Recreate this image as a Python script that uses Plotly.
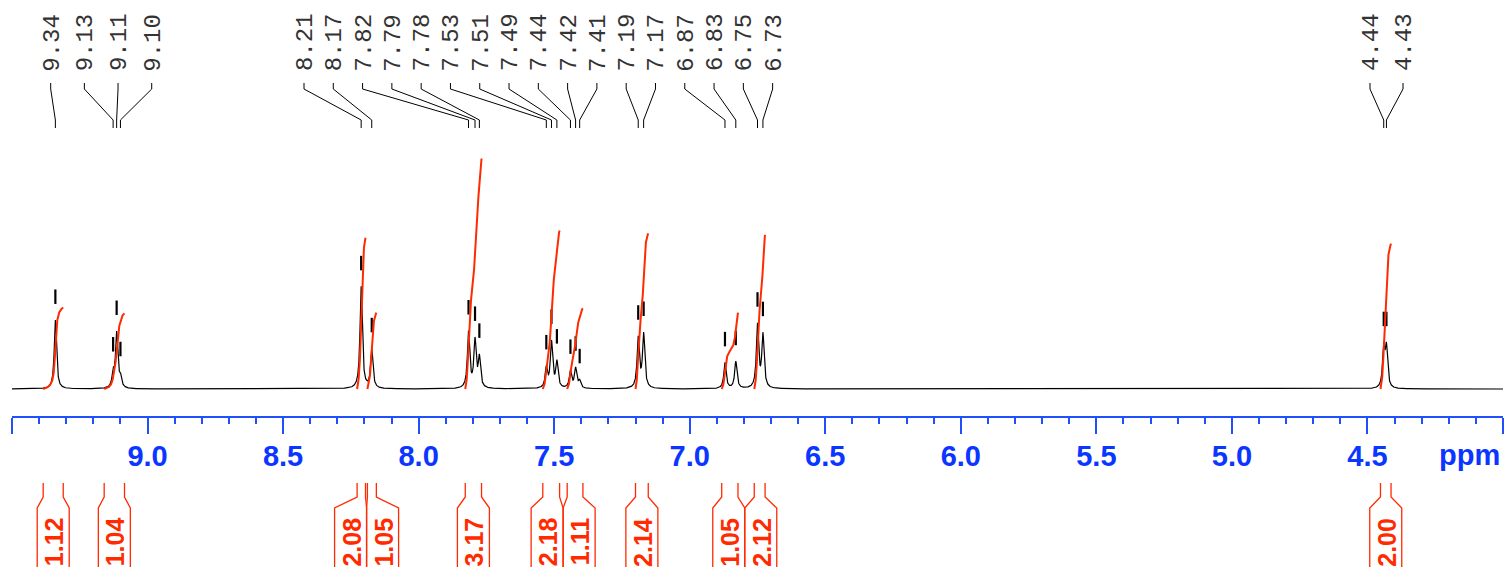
import numpy as np
import plotly.graph_objects as go

# ---------------- data ----------------
peak_ppm = [9.340, 9.127, 9.114, 9.100, 8.212, 8.173, 7.816, 7.792, 7.776,
            7.529, 7.510, 7.490, 7.440, 7.421, 7.406, 7.190, 7.170,
            6.870, 6.830, 6.750, 6.730, 4.440, 4.430]
peak_height = [69, 14, 55, 10, 102, 39, 56, 47, 30,
               20, 46, 26, 17, 20, 7, 50, 54,
               26, 27, 63, 53, 39, 39]
peak_labels = [f"{p:.2f}" for p in peak_ppm]

integral_start = [9.385, 9.160, 8.227, 8.189, 7.828, 7.542, 7.452, 7.200, 6.882, 6.762, 4.452]
integral_end = [9.311, 9.085, 8.196, 8.156, 7.768, 7.480, 7.394, 7.153, 6.822, 6.722, 4.413]
integral_value = [1.12, 1.04, 2.08, 1.05, 3.17, 2.18, 1.11, 2.14, 1.05, 2.12, 2.00]

tick_values = [9.5, 9.0, 8.5, 8.0, 7.5, 7.0, 6.5, 6.0, 5.5, 5.0, 4.5, 4.0]
tick_text = ["", "9.0", "8.5", "8.0", "7.5", "7.0", "6.5", "6.0", "5.5", "5.0", "4.5", ""]

# ---------------- layout constants ----------------
W, H = 1510, 567
ML, MR, MT, MB = 12, 7, 0, 151
PH = H - MT - MB            # plot height in px (416)
X0, X1 = 9.5, 4.0
PXPP = (W - ML - MR) / (X0 - X1)
BASE_PX = 389               # pixel row of spectrum baseline
GAMMA = 0.005               # half width of lines (ppm)
INT_SCALE = 72.7            # px per integral unit

AX_BLUE = "#1f4fff"
LBL_BLUE = "#0a36ff"
RED = "#ff2a00"


def px2ppm(px):
    return X0 - (px - ML) / PXPP


def ppm2px(p):
    return ML + (X0 - p) * PXPP


def ydat(px):
    return BASE_PX - px


def ypap(px):
    return (PH - px) / PH


def spectrum(x):
    x = np.asarray(x, dtype=float)
    y = np.zeros_like(x)
    for p, h in zip(peak_ppm, peak_height):
        y += h / (1.0 + ((x - p) / GAMMA) ** 2)
    return y


fig = go.Figure()

# spectrum
xs = np.linspace(X0, X1, 22001)
ys = spectrum(xs)
fig.add_trace(go.Scatter(x=xs, y=ys, mode="lines",
                         line=dict(color="black", width=1.2), hoverinfo="skip"))

# peak pick markers
mx, my = [], []
for p in peak_ppm:
    top = float(spectrum([p])[0])
    mx += [p, p, None]
    my += [top + 16, top + 30.5, None]
fig.add_trace(go.Scatter(x=mx, y=my, mode="lines",
                         line=dict(color="black", width=2.2), hoverinfo="skip"))

# integral curves
for a, b, v in zip(integral_start, integral_end, integral_value):
    m = (xs <= a) & (xs >= b)
    xi = xs[m]
    yi = spectrum(xi)
    cum = np.concatenate([[0.0], np.cumsum((yi[1:] + yi[:-1]) / 2.0)])
    cum = cum / cum[-1] * v * INT_SCALE
    fig.add_trace(go.Scatter(x=xi, y=cum, mode="lines",
                             line=dict(color=RED, width=2), hoverinfo="skip"))

# peak label positions (px) per group: start, step, count
label_px = []
for start, step, count in [(50.7, 33.67, 4), (304.0, 29.29, 17), (1370.0, 33.0, 2)]:
    label_px += [start + step * i for i in range(count)]

cx, cy = [], []
for lp, p in zip(label_px, peak_ppm):
    lx = px2ppm(lp)
    cx += [lx, lx, p, p, None]
    cy += [ydat(83), ydat(89), ydat(120), ydat(128), None]
fig.add_trace(go.Scatter(x=cx, y=cy, mode="lines",
                         line=dict(color="black", width=1), hoverinfo="skip"))

annotations = []
for lp, txt in zip(label_px, peak_labels):
    annotations.append(dict(
        x=px2ppm(lp + 1.5), y=ydat(42.5), xref="x", yref="y",
        text=txt, textangle=-90, showarrow=False,
        xanchor="center", yanchor="middle",
        font=dict(family="Liberation Mono, Courier New, monospace", size=24, color="#333333")))

# integral brackets below axis
centers = []
for a, b in zip(integral_start, integral_end):
    centers.append((ppm2px(a) + ppm2px(b)) / 2)
half = 16
bl = [c - half for c in centers]
br = [c + half for c in centers]
for i in range(len(centers) - 1):
    if bl[i + 1] < br[i]:
        mid = (centers[i] + centers[i + 1]) / 2
        br[i] = mid
        bl[i] = mid - 2 * half
        bl[i + 1] = mid
        br[i + 1] = mid + 2 * half

shapes = []
for a, b, l, r in zip(integral_start, integral_end, bl, br):
    pa, pb = ppm2px(a), ppm2px(b)
    for top_px, bot_px in [(pa, l), (pb, r)]:
        path = "M {:.5f},{:.5f} L {:.5f},{:.5f} L {:.5f},{:.5f} L {:.5f},{:.5f}".format(
            px2ppm(top_px), ypap(483), px2ppm(top_px), ypap(497),
            px2ppm(bot_px), ypap(508), px2ppm(bot_px), ypap(575))
        shapes.append(dict(type="path", path=path, xref="x", yref="paper",
                           line=dict(color=RED, width=1.3)))

for v, l, r in zip(integral_value, bl, br):
    annotations.append(dict(
        x=px2ppm((l + r) / 2 + 1), y=ypap(542), xref="x", yref="paper",
        text=f"{v:.2f}", textangle=-90, showarrow=False,
        xanchor="center", yanchor="middle",
        font=dict(family="Liberation Sans, Arial", size=25, color=RED, weight="bold")))

annotations.append(dict(
    x=(1469 - ML) / (W - ML - MR), y=ypap(455), xref="paper", yref="paper",
    text="ppm", showarrow=False, xanchor="center", yanchor="middle",
    font=dict(family="Liberation Sans, Arial", size=29, color=LBL_BLUE, weight="bold")))

minor_vals = [round(X1 + 0.1 * k, 1) for k in range(56)]
minor_vals = [v for v in minor_vals if abs(v * 2 - round(v * 2)) > 1e-6]

fig.update_layout(
    width=W, height=H,
    margin=dict(l=ML, r=MR, t=MT, b=MB, autoexpand=False),
    paper_bgcolor="white", plot_bgcolor="white",
    showlegend=False,
    annotations=annotations,
    shapes=shapes,
    xaxis=dict(
        range=[X0, X1], tickmode="array", tickvals=tick_values, ticktext=tick_text,
        ticks="outside", ticklen=16, tickwidth=1.5, tickcolor=AX_BLUE,
        showline=True, linecolor=AX_BLUE, linewidth=1.5,
        showgrid=False, zeroline=False, ticklabelstandoff=-3,
        tickfont=dict(family="Liberation Sans, Arial", size=29, color=LBL_BLUE, weight="bold"),
        minor=dict(tickmode="array", tickvals=minor_vals, ticks="outside", ticklen=6,
                   tickwidth=1.5, tickcolor=AX_BLUE, showgrid=False),
    ),
    yaxis=dict(range=[BASE_PX - PH, BASE_PX], visible=False, fixedrange=True),
)

fig.write_html("out.html", config={"displayModeBar": False},
               post_script="document.body.style.margin='0px';document.body.style.overflow='hidden';")
